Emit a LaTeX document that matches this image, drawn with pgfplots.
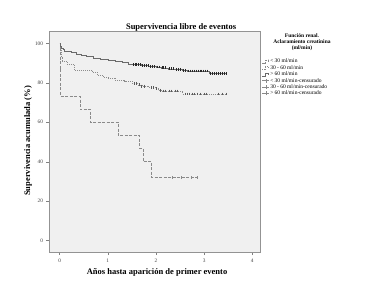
\documentclass[border=0pt]{standalone}
\usepackage{pgfplots}
\pgfplotsset{compat=1.18}
\usepackage{fontspec}
\setmainfont{Liberation Serif}
\definecolor{bg}{HTML}{F0F0F0}
\definecolor{cA}{HTML}{8A8A8A}
\definecolor{cB}{HTML}{8C8C8C}
\definecolor{cC}{HTML}{6A6A6A}
\begin{document}
\begin{tikzpicture}
\useasboundingbox (0,0) rectangle (378pt,304pt);
\begin{axis}[
  at={(49pt,51.3pt)}, anchor=south west,
  scale only axis, width=211pt, height=221.4pt,
  clip=false,
  xmin=-0.22, xmax=4.16, ymin=-6.1, ymax=106.1,
  xtick={0,1,2,3,4}, ytick={0,20,40,60,80,100},
  tick pos=left, tick align=outside, major tick length=2.5pt,
  tick style={gray, line width=0.4pt},
  axis line style={gray!85, line width=0.5pt},
  ticklabel style={font=\fontsize{5.3}{6}\selectfont, text=black!75},
  /pgf/number format/assume math mode=true,
  axis background/.style={fill=bg},
  every axis title shift=0pt,
  title={Supervivencia libre de eventos},
  title style={at={(axis description cs:0.626,1.006)}, anchor=base, yshift=0pt, font=\bfseries\fontsize{8.5}{10}\selectfont},
  xlabel={Años hasta aparición de primer evento},
  xlabel style={at={(axis description cs:0.512,-0.087)}, anchor=center, font=\bfseries\fontsize{8.5}{10}\selectfont},
  ylabel={Supervivencia acumulada (\%)},
  ylabel style={at={(axis description cs:-0.0995,0.505)}, anchor=center, font=\bfseries\fontsize{8.5}{10}\selectfont},
  legend style={at={(axis description cs:1.0095,0.879)}, anchor=north west, draw=none, fill=none,
    font=\fontsize{5.5}{6}\selectfont, inner sep=0pt, row sep=0pt,
    nodes={inner sep=0.6pt, text height=4pt, text depth=1.2pt, anchor=west}},
  legend cell align=left,
  legend image code/.code={\draw[#1] (0pt,-1.5pt) -- (2.5pt,-1.5pt) -- (2.5pt,1.5pt) -- (6pt,1.5pt) -- (6pt,-0.3pt);},
]
% < 30 ml/min
\addplot[const plot, cA, line width=0.5pt, dash pattern=on 3pt off 1.5pt] table {
x y
0 100
0.005 86.7
0.02 73.3
0.42 66.7
0.63 60
1.22 53.3
1.66 46.7
1.73 40
1.91 32
2.87 32
};
\addlegendentry{< 30 ml/min}
% 30 - 60 ml/min
\addplot[const plot, cB, line width=0.5pt, dash pattern=on 0.8pt off 1.2pt] table {
x y
0 100
0.01 97
0.03 93
0.06 91
0.15 89.5
0.3 86.6
0.68 85.5
0.78 84
0.9 83
1.0 82.2
1.15 81.5
1.35 81
1.5 79.7
1.62 79
1.72 78.3
1.85 77.5
2.0 77
2.05 76.2
2.12 75.8
2.55 74.3
3.47 74.3
};
\addlegendentry{30 - 60  ml/min}
% > 60 ml/min
\addplot[const plot, cC, line width=0.5pt] table {
x y
0 100
0.01 99
0.02 98.3
0.04 97.5
0.07 96.8
0.1 96.2
0.15 95.8
0.25 95.3
0.35 94.5
0.45 93.8
0.55 93.3
0.7 92.6
0.85 92.1
1.0 91.4
1.15 90.8
1.3 90.2
1.42 89.6
1.55 89.2
1.7 88.8
1.85 88.3
2.0 88.0
2.1 87.6
2.25 87.1
2.4 86.8
2.55 86.4
2.65 86.0
3.1 84.6
3.47 84.6
};
\addlegendentry{> 60 ml/min}
% censored
\addplot[only marks, mark=|, mark size=1.4pt, cA, mark options={line width=0.4pt},
  legend image code/.code={\draw[cA, line width=0.4pt] (0pt,0pt) -- (7pt,0pt); \draw[cA, line width=0.4pt] (3.5pt,-2pt) -- (3.5pt,2pt);}] table {
x y
2.34 32
2.53 32
2.74 32
2.86 32
};
\addlegendentry{< 30 ml/min-censurado}
\addplot[only marks, mark=|, mark size=1.4pt, black!65, mark options={line width=0.4pt},
  legend image code/.code={\draw[cA, line width=0.4pt] (0pt,0pt) -- (7pt,0pt); \draw[cA, line width=0.4pt] (3.5pt,-2pt) -- (3.5pt,2pt);}] table {
x y
1.55 79.7
1.58 79.7
1.65 79.0
1.70 78.3
1.75 78.3
1.90 77.5
1.95 77.5
2.00 77.0
2.08 76.2
2.15 75.8
2.20 75.8
2.27 75.8
2.32 75.8
2.40 75.8
2.45 75.8
2.60 74.3
2.65 74.3
2.70 74.3
2.75 74.3
2.80 74.3
2.85 74.3
2.92 74.3
3.00 74.3
3.05 74.3
3.30 74.3
3.38 74.3
3.45 74.3
};
\addlegendentry{30 - 60  ml/min-censurado}
\addplot[only marks, mark=|, mark size=1.4pt, black!85, mark options={line width=0.45pt},
  legend image code/.code={\draw[cA, line width=0.4pt] (0pt,0pt) -- (7pt,0pt); \draw[cA, line width=0.4pt] (3.5pt,-2pt) -- (3.5pt,2pt);}] table {
x y
1.52 89.2
1.56 89.2
1.60 89.2
1.63 89.2
1.67 89.2
1.72 88.8
1.76 88.8
1.80 88.8
1.83 88.8
1.88 88.3
1.92 88.3
1.96 88.3
2.02 88.0
2.06 88.0
2.12 87.6
2.16 87.6
2.20 87.6
2.27 87.1
2.31 87.1
2.35 87.1
2.42 86.8
2.46 86.8
2.50 86.8
2.57 86.4
2.61 86.4
2.67 86.0
2.71 86.0
2.75 86.0
2.79 86.0
2.83 86.0
2.87 86.0
2.91 86.0
2.95 86.0
2.99 86.0
3.03 86.0
3.07 86.0
3.13 84.6
3.17 84.6
3.21 84.6
3.25 84.6
3.29 84.6
3.33 84.6
3.37 84.6
3.41 84.6
3.45 84.6
};
\addlegendentry{> 60 ml/min-censurado}
\node[font=\bfseries\fontsize{5.5}{6}\selectfont, align=center, anchor=center] at (axis description cs:1.199,0.949) {Función renal.\\Aclaramiento creatinina\\(ml/min)};
\end{axis}
\end{tikzpicture}
\end{document}
